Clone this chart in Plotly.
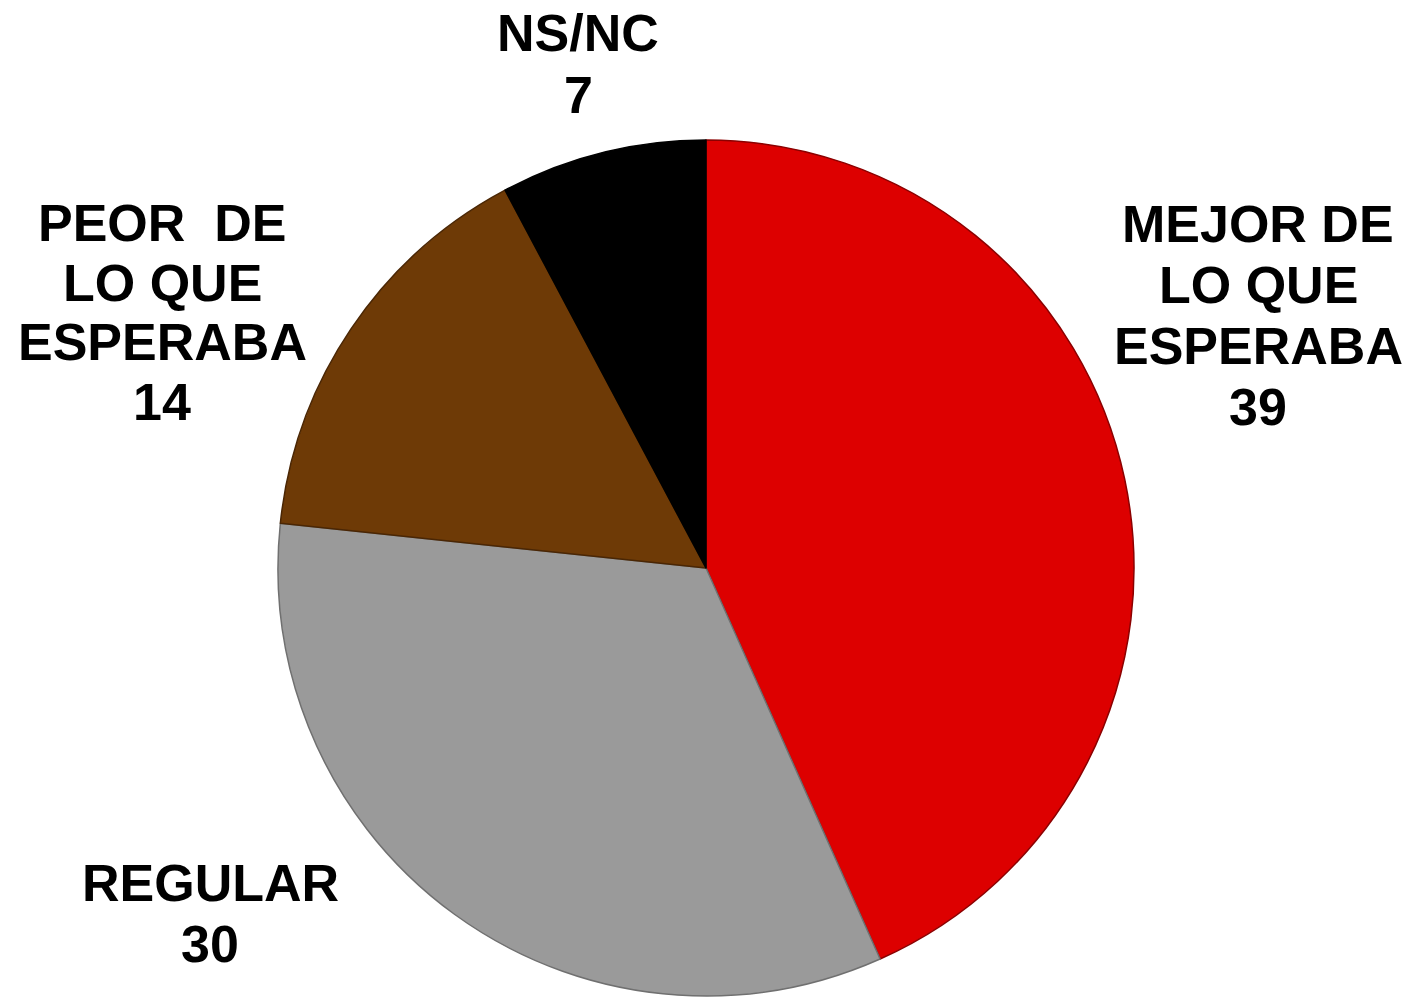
import plotly.graph_objects as go

categories = ["MEJOR DE LO QUE ESPERABA", "REGULAR", "PEOR  DE LO QUE ESPERABA", "NS/NC"]
values = [39, 30, 14, 7]
colors = ["#DD0000", "#9A9A9A", "#6E3A06", "#000000"]
line_colors = ["#8B0000", "#707070", "#4A2604", "#000000"]

W, H = 1416, 997
cx, cy, r = 706, 568, 428

fig = go.Figure(go.Pie(
    labels=categories,
    values=values,
    sort=False,
    direction="clockwise",
    rotation=0,
    textinfo="none",
    hoverinfo="label+value",
    marker=dict(colors=colors, line=dict(color=line_colors, width=1.5)),
    domain=dict(x=[(cx - r) / W, (cx + r) / W], y=[1 - (cy + r) / H, 1 - (cy - r) / H]),
    showlegend=False,
))

# label text lines (derived from categories and values)
label_lines = [
    ["MEJOR DE", "LO QUE", "ESPERABA", str(values[0])],
    ["REGULAR", str(values[1])],
    ["PEOR&nbsp;&nbsp;DE", "LO QUE", "ESPERABA", str(values[2])],
    ["NS/NC", str(values[3])],
]
# layout positions (pixels): center x, first line center y, spacing
label_pos = [
    (1258, 224, 61),
    (210, 883, 61),
    (162, 223, 59.5),
    (578, 33, 62),
]

annotations = []
for lines, (x, y0, dy) in zip(label_lines, label_pos):
    for i, t in enumerate(lines):
        y = y0 + i * dy
        annotations.append(dict(
            x=x / W, y=1 - y / H, xref="paper", yref="paper",
            text=t, showarrow=False, xanchor="center", yanchor="middle",
            font=dict(family="Liberation Sans, Arial, sans-serif", size=52, color="#000000", weight="bold"),
        ))

fig.update_layout(
    width=W, height=H,
    margin=dict(l=0, r=0, t=0, b=0),
    paper_bgcolor="white",
    plot_bgcolor="white",
    annotations=annotations,
)

fig.write_html(
    "out.html",
    config={"displayModeBar": False},
    post_script="document.body.style.margin='0';document.body.style.overflow='hidden';",
)
